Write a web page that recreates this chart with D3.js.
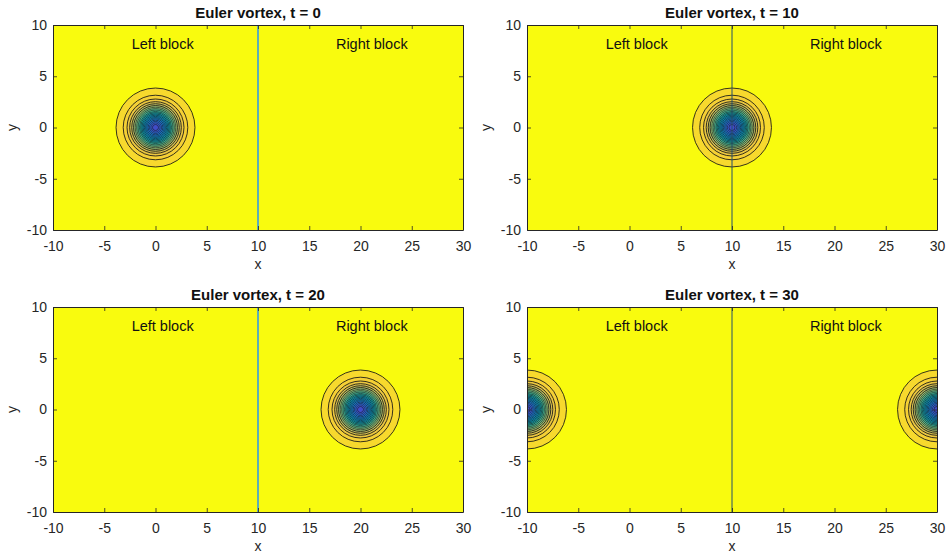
<!DOCTYPE html>
<html><head><meta charset="utf-8">
<script src="https://cdn.jsdelivr.net/npm/d3@7"></script>
<style>
html,body{margin:0;padding:0;background:#fff;}
svg{display:block;font-family:"Liberation Sans",Arial,Helvetica,sans-serif;}
</style></head>
<body><svg id="c" width="946" height="553"></svg>
<script>
// ---- data ----
const times = [0, 10, 20, 30];
const vortexCentersX = [[0], [10], [20], [-10, 30]];
const vortexCenterY = 0;
// radii (data units) of the filled-contour rings, outer -> inner
const ringRadii = [3.85, 3.15, 2.78, 2.52, 2.32, 2.14, 1.98, 1.84, 1.70, 1.57, 1.45, 1.33, 1.21, 1.09, 0.97, 0.85, 0.72, 0.59, 0.45, 0.30];
// contour level (0..1 of colormap) filling inside each ring
const ringLevels = [0.88, 0.84, 0.79, 0.74, 0.69, 0.64, 0.60, 0.56, 0.52, 0.48, 0.44, 0.40, 0.36, 0.32, 0.28, 0.24, 0.20, 0.16, 0.12, 0.08];
const xTicks = [-10, -5, 0, 5, 10, 15, 20, 25, 30];
const yTicks = [-10, -5, 0, 5, 10];
const xDomain = [-10, 30];
const yDomain = [-10, 10];
const blockBoundaryX = 10;
const blockLabels = ["Left block", "Right block"];
const blockLabelX = [0.7, 21.1];
const blockLabelY = 8;

// ---- layout ----
const svg = d3.select("#c");
const panelBoxes = [
  {left: 53, right: 463, top: 25, bottom: 230},
  {left: 527, right: 937, top: 25, bottom: 230},
  {left: 53, right: 463, top: 307, bottom: 512},
  {left: 527, right: 937, top: 307, bottom: 512}
];
const dividerColors = ["#4ea6c9", "#24506a", "#4ea6c9", "#24506a"];
const dividerWidths = [1.8, 1.0, 1.8, 1.0];

const parula = d3.interpolateRgbBasis([
  "#352a87", "#4a55e0", "#1f7ae4", "#1293d4", "#07a8c4", "#2fb8a2",
  "#7fbf7b", "#c6bc5e", "#f5c73a", "#f8dc2c", "#f9fb0e"
]);
const axisColor = "#262626";
const fmt = d => String(d); // hyphen minus like the reference

times.forEach((t, i) => {
  const b = panelBoxes[i];
  const x = d3.scaleLinear().domain(xDomain).range([b.left, b.right]);
  const y = d3.scaleLinear().domain(yDomain).range([b.bottom, b.top]);
  const g = svg.append("g");
  const clipId = "clip" + i;
  g.append("clipPath").attr("id", clipId).append("rect")
    .attr("x", b.left).attr("y", b.top)
    .attr("width", b.right - b.left).attr("height", b.bottom - b.top);
  const plot = g.append("g").attr("clip-path", `url(#${clipId})`);
  plot.append("rect").attr("x", b.left).attr("y", b.top)
    .attr("width", b.right - b.left).attr("height", b.bottom - b.top)
    .attr("fill", parula(1));

  const kx = x(1) - x(0);
  vortexCentersX[i].forEach(cx => {
    plot.selectAll(null).data(ringRadii).enter().append("circle")
      .attr("cx", x(cx)).attr("cy", y(vortexCenterY))
      .attr("r", d => d * kx)
      .attr("fill", (d, j) => parula(ringLevels[j]))
      .attr("stroke", "#151515").attr("stroke-opacity", 0.85)
      .attr("stroke-width", (d, j) => j < 6 ? 1 : 0.7);
  });

  plot.append("line")
    .attr("x1", x(blockBoundaryX)).attr("x2", x(blockBoundaryX))
    .attr("y1", b.top).attr("y2", b.bottom)
    .attr("stroke", dividerColors[i]).attr("stroke-width", dividerWidths[i]);

  blockLabels.forEach((lab, j) => {
    g.append("text").attr("x", x(blockLabelX[j])).attr("y", y(blockLabelY))
      .attr("text-anchor", "middle").attr("dominant-baseline", "middle")
      .attr("font-size", 14.5).attr("fill", "#111").text(lab);
  });

  // axes
  const xb = g.append("g").attr("transform", `translate(0,${b.bottom})`)
    .call(d3.axisBottom(x).tickValues(xTicks).tickSize(-4).tickSizeOuter(0).tickPadding(11).tickFormat(fmt));
  const xt = g.append("g").attr("transform", `translate(0,${b.top})`)
    .call(d3.axisTop(x).tickValues(xTicks).tickSize(-4).tickSizeOuter(0).tickFormat(""));
  const yl = g.append("g").attr("transform", `translate(${b.left},0)`)
    .call(d3.axisLeft(y).tickValues(yTicks).tickSize(-4).tickSizeOuter(0).tickPadding(6).tickFormat(fmt));
  const yr = g.append("g").attr("transform", `translate(${b.right},0)`)
    .call(d3.axisRight(y).tickValues(yTicks).tickSize(-4).tickSizeOuter(0).tickFormat(""));
  [xb, xt, yl, yr].forEach(a => {
    a.select(".domain").attr("stroke", axisColor).attr("stroke-width", 1);
    a.selectAll(".tick line").attr("stroke", axisColor).attr("stroke-width", 0.8);
    a.selectAll(".tick text").attr("fill", axisColor).attr("font-size", 14)
      .attr("font-family", '"Liberation Sans",Arial,sans-serif');
  });

  g.append("text").attr("x", (b.left + b.right) / 2).attr("y", b.top - 7)
    .attr("text-anchor", "middle").attr("font-size", 15).attr("font-weight", "bold")
    .attr("fill", "#111").text("Euler vortex, t = " + t);
  g.append("text").attr("x", (b.left + b.right) / 2).attr("y", b.bottom + 39)
    .attr("text-anchor", "middle").attr("font-size", 14).attr("fill", axisColor).text("x");
  g.append("text")
    .attr("transform", `translate(${b.left - 36},${(b.top + b.bottom) / 2}) rotate(-90)`)
    .attr("text-anchor", "middle").attr("font-size", 14).attr("fill", axisColor).text("y");
});
</script></body></html>
